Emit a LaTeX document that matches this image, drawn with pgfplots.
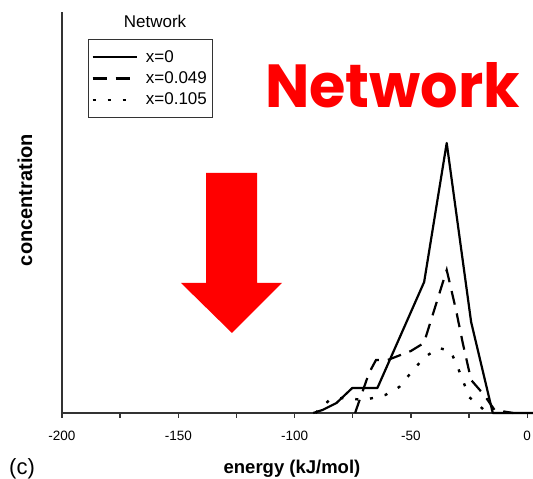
\documentclass[border=0pt]{standalone}
\usepackage{pgfplots}
\pgfplotsset{compat=1.18}
\usepackage{fontspec}
\setmainfont{Liberation Sans}
\newfontfamily\netfont{Poppins}
\definecolor{pptred}{RGB}{255,0,0}
\begin{document}
\begin{tikzpicture}[x=1pt,y=1pt]
\useasboundingbox (0,0) rectangle (533,479);
\begin{axis}[
  at={(62pt,66pt)}, anchor=south west,
  scale only axis, width=471pt, height=401pt,
  xmin=-200, xmax=2.5, ymin=0, ymax=401,
  axis x line=bottom, axis y line=left,
  axis line style={-, line width=1.6pt, black!80},
  ytick=\empty,
  xtick={-200,-150,-100,-50,0},
  minor xtick={-175,-125,-75,-25},
  tick align=outside,
  major tick length=5pt, minor tick length=5pt,
  every tick/.style={line width=1.3pt, black!80},
  every minor tick/.style={line width=1.3pt, black!80},
  /pgf/number format/assume math mode=true,
  xticklabel style={font=\fontsize{13.5}{13.5}\selectfont, yshift=-10pt},
  clip=false,
  legend cell align=left,
  legend image code/.code={\draw[#1] (0pt,0pt) -- (44pt,0pt); \path (49pt,0pt);},
  legend style={at={(axis description cs:0.0552,0.933)}, anchor=north west,
    draw=black!80, line width=1pt, font=\fontsize{17}{17}\selectfont,
    inner xsep=3pt, inner ysep=9pt, row sep=4pt,
    nodes={inner xsep=3pt, inner ysep=2pt}},
]
\addplot[black, line width=2.2pt, line join=round] coordinates {
 (-92,0) (-88,3) (-82,10) (-75.2,25) (-64.4,25) (-44.3,131) (-34.6,270) (-24.1,91) (-14.8,0) (2.5,0)};
\addlegendentry{x=0}
\addplot[black, line width=2.2pt, dash pattern=on 14pt off 9pt] coordinates {
 (-74,0) (-68,40) (-65,53) (-60,53) (-50,62) (-44.4,70) (-34.6,143) (-30.6,103) (-27.7,70) (-24.1,33) (-18.5,18) (-14,3) (-6,0)};
\addlegendentry{x=0.049}
\addplot[black, line width=2.4pt, dash pattern=on 3pt off 12pt] coordinates {
 (-91,0) (-85,13) (-79,15) (-70,13) (-61,18) (-55,26) (-49,43) (-44,56) (-38,65) (-33,62) (-30.6,50) (-27.7,33) (-25,16) (-20,6) (-17,0)};
\addlegendentry{x=0.105}
\end{axis}
% labels
\node[font=\fontsize{17}{17}\selectfont] at (155,458) {Network};
\node[font=\bfseries\fontsize{18.5}{18.5}\selectfont] at (292,10) {energy (kJ/mol)};
\node[font=\fontsize{22}{22}\selectfont] at (22,10) {(c)};
\node[font=\bfseries\fontsize{20}{20}\selectfont, rotate=90] at (25,279) {concentration};
% red annotations
\fill[pptred] (206,306) -- (257,306) -- (257,196) -- (282,196) -- (232,146) -- (181,196) -- (206,196) -- cycle;
\node[anchor=south west, inner sep=0pt, text=pptred] at (265,371) {\resizebox{255pt}{45pt}{\netfont\bfseries Network}};
\end{tikzpicture}
\end{document}
